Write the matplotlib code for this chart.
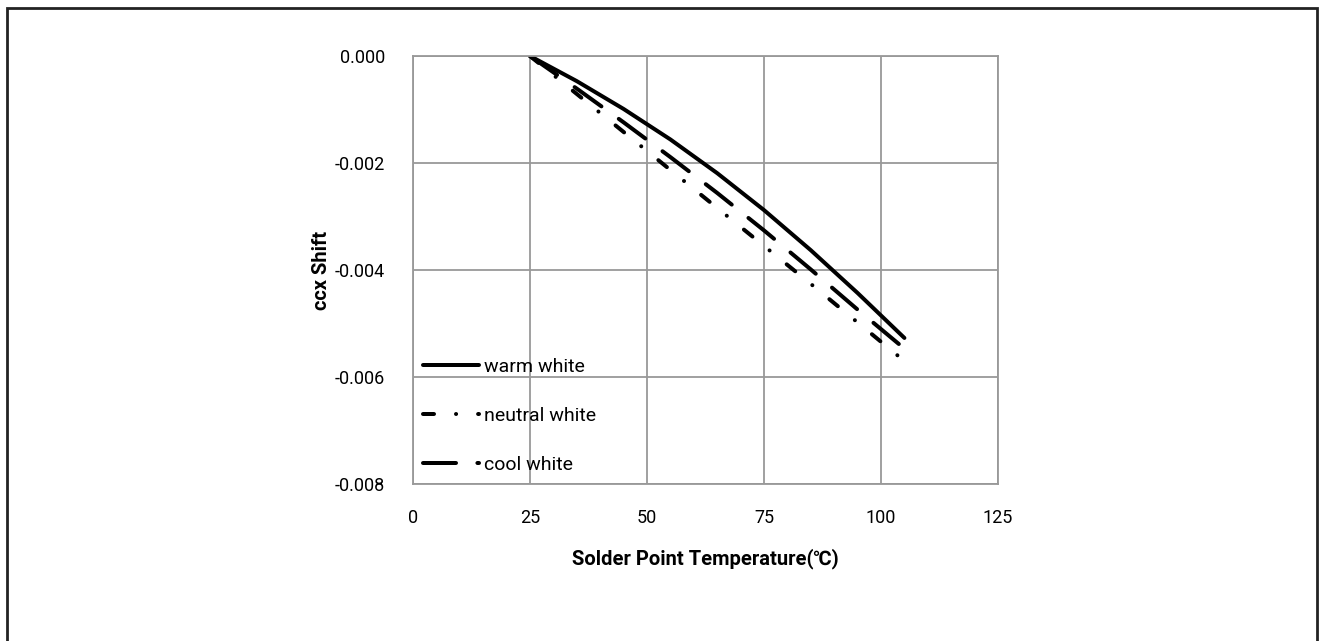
import numpy as np
import matplotlib
matplotlib.use("Agg")
import matplotlib.pyplot as plt
from matplotlib.patches import Rectangle

plt.rcParams['font.family'] = ['Roboto', 'Noto Sans CJK SC', 'DejaVu Sans']
plt.rcParams['lines.scale_dashes'] = False

# values
temp_warm = [25, 35, 45, 55, 65, 75, 85, 95, 105]
shift_warm = [0.0, -0.00047, -0.00099, -0.00156, -0.00219, -0.00288, -0.00363, -0.00443, -0.00527]

temp_neutral = [25, 35, 45, 55, 65, 75, 85, 95, 104]
shift_neutral = [0.0, -0.00071, -0.00142, -0.00213, -0.00284, -0.00355, -0.00426, -0.00498, -0.00563]

temp_cool = [25, 35, 45, 55, 65, 75, 85, 95, 105]
shift_cool = [0.0, -0.00061, -0.00124, -0.00189, -0.00256, -0.00326, -0.00399, -0.00474, -0.00547]

labels = ['warm white', 'neutral white', 'cool white']
x_ticks = [0, 25, 50, 75, 100, 125]
y_ticks = [0.0, -0.002, -0.004, -0.006, -0.008]

px = 0.72  # points per pixel at dpi 100
lw = 4 * px

fig = plt.figure(figsize=(13.2, 6.41), dpi=100)
ax = fig.add_axes([413 / 1320, 1 - 484 / 641, 585 / 1320, 428 / 641])

ax.plot(temp_warm, shift_warm, color='black', lw=lw, solid_capstyle='round',
        solid_joinstyle='round', label=labels[0])
ax.plot(temp_neutral, shift_neutral, color='black', lw=lw, dash_capstyle='round',
        dashes=(11 * px, 22 * px, 0.1 * px, 22 * px), label=labels[1])
ax.plot(temp_cool, shift_cool, color='black', lw=lw, dash_capstyle='round',
        dashes=(33 * px, 21.4 * px), label=labels[2])

ax.set_xlim(0, 125)
ax.set_ylim(-0.008, 0.0)
ax.set_xticks(x_ticks)
ax.set_yticks(y_ticks)
ax.set_yticklabels([f"{v:.3f}" for v in y_ticks])
ax.grid(True, color='#999999', lw=1.3)
ax.set_axisbelow(True)
for s in ax.spines.values():
    s.set_color('#999999')
    s.set_linewidth(1.3)
ax.tick_params(axis='both', length=0, labelsize=13, colors='black')
ax.tick_params(axis='x', pad=18)
ax.tick_params(axis='y', pad=20)

ax.set_xlabel('Solder Point Temperature(℃)', fontsize=14.5, fontweight='bold', labelpad=15)
ax.set_ylabel('ccx Shift', fontsize=14.5, fontweight='bold', labelpad=3)

leg = ax.legend(loc='center left', bbox_to_anchor=(10 / 585, 68 / 428), frameon=False,
                fontsize=14, handlelength=2.9, handletextpad=0.25, labelspacing=1.6,
                borderpad=0, borderaxespad=0)

# outer frame around the whole chart
fig.patches.append(Rectangle((7 / 1320, -0.05), 1310 / 1320, 1.05 - 8 / 641,
                             transform=fig.transFigure, fill=False,
                             edgecolor='#222222', lw=2))

fig.savefig('out.png', dpi=100)
